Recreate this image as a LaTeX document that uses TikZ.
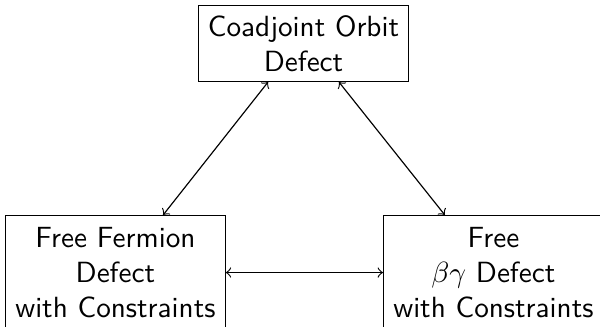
\documentclass[tikz,border=0pt]{standalone}
\usetikzlibrary{calc}
\begin{document}
\begin{tikzpicture}[x=0.3425pt,y=-0.3425pt,
  defect/.style={draw,align=center,font=\sffamily,inner sep=0.3333em},
  lower/.style={defect,anchor=north west,minimum width=75pt,minimum height=39pt},
  link/.style={<->,>=to}]
  \useasboundingbox (0,0) rectangle (600,326);
  \clip (0,0) rectangle (600,326);
  % the three defects
  \node[defect] (orbit) at (303.5,43.5) {Coadjoint Orbit\\Defect};
  \node[lower] (fermion) at (5,215) {Free Fermion\\Defect\\with Constraints};
  \node[lower] (betagamma) at (383,215) {Free\\$\beta\gamma$ Defect\\with Constraints};
  % connection points along the box edges
  \coordinate (oL) at ($(orbit.south west)!0.333!(orbit.south east)$);
  \coordinate (oR) at ($(orbit.south west)!0.667!(orbit.south east)$);
  \coordinate (fT) at ($(fermion.north west)!0.716!(fermion.north east)$);
  \coordinate (bT) at ($(betagamma.north west)!0.28!(betagamma.north east)$);
  % relations
  \draw[link] (oL) -- (fT);
  \draw[link] (oR) -- (bT);
  \draw[link] (fermion.east) -- (betagamma.west);
\end{tikzpicture}
\end{document}
